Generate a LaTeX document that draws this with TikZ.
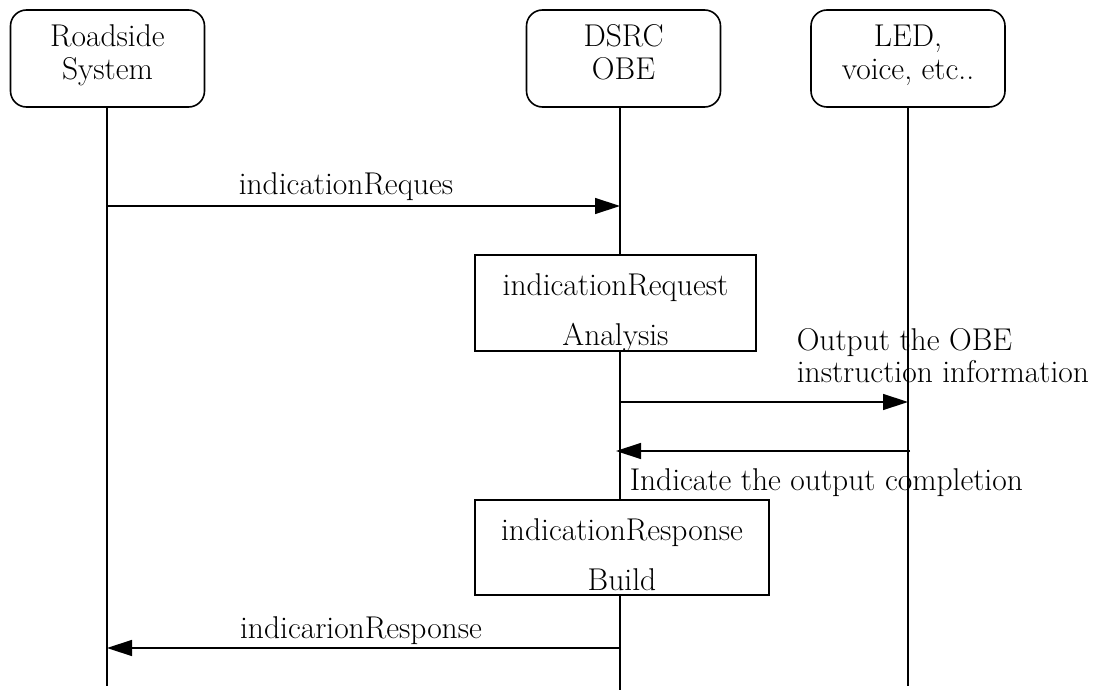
\documentclass[tikz,border=0pt]{standalone}
\usetikzlibrary{arrows.meta}
\begin{document}
\begin{tikzpicture}[x=1pt,y=-1pt,
  line width=1.6pt,
  head/.style={draw, rounded corners=16pt, minimum width=194pt, minimum height=97pt, inner sep=0pt},
  procbox/.style={draw, fill=white, inner sep=0pt},
  txt/.style={anchor=base, inner sep=0pt, font=\fontsize{31.5}{36}\selectfont},
  txtl/.style={txt, anchor=base west},
  lifeline/.style={line width=1.5pt},
  msg/.style={-{Triangle[length=25pt,width=16pt]}, line width=1.4pt},
]
\useasboundingbox (0,0) rectangle (1101,690);

% participants
\node[head] (rs)  at (107.5,58.5) {};
\node[head] (obe) at (623.5,58.5) {};
\node[head] (led) at (908,58.5) {};
\node[txt] (rs1)  at (107.5,47) {Roadside};
\node[txt] (rs2)  at (107.5,80) {System};
\node[txt] (obe1) at (623.5,47) {DSRC};
\node[txt] (obe2) at (623.5,80) {OBE};
\node[txt] (led1) at (908,47) {LED,};
\node[txt] (led2) at (908,80) {voice, etc..};

% lifeline end points
\coordinate (rsTop)  at (107,107);
\coordinate (rsEnd)  at (107,686);
\coordinate (obeTop) at (620,107);
\coordinate (obeEnd) at (620,690);
\coordinate (ledTop) at (908,107);
\coordinate (ledEnd) at (908,686);
\draw[lifeline] (rsTop) -- (rsEnd);
\draw[lifeline] (obeTop) -- (obeEnd);
\draw[lifeline] (ledTop) -- (ledEnd);

% processing boxes on the OBE lifeline
\node[procbox, minimum width=281pt, minimum height=95.5pt] (ana) at (615.5,303) {};
\node[txt] (ana1) at (615.5,295) {indicationRequest};
\node[txt] (ana2) at (615.5,345) {Analysis};

\node[procbox, minimum width=294pt, minimum height=95pt] (bld) at (622,547.5) {};
\node[txt] (bld1) at (622,540) {indicationResponse};
\node[txt] (bld2) at (622,590) {Build};

% message anchors
\coordinate (m1s) at (107,206);
\coordinate (m1e) at (620,206);
\coordinate (m2s) at (620,402);
\coordinate (m2e) at (908,402);
\coordinate (m3s) at (910,451);
\coordinate (m3e) at (616,451);
\coordinate (m4s) at (620,648);
\coordinate (m4e) at (107,648);

% messages
\draw[msg] (m1s) -- (m1e);
\node[txt] (l1) at (346,195) {indicationReques};

\draw[msg] (m2s) -- (m2e);
\node[txtl] (l2a) at (796,350) {Output the OBE};
\node[txtl] (l2b) at (796,382) {instruction information};

\draw[msg] (m3s) -- (m3e);
\node[txtl] (l3) at (629,490) {Indicate the output completion};

\draw[msg] (m4s) -- (m4e);
\node[txt] (l4) at (361,638) {indicarionResponse};
\end{tikzpicture}
\end{document}
